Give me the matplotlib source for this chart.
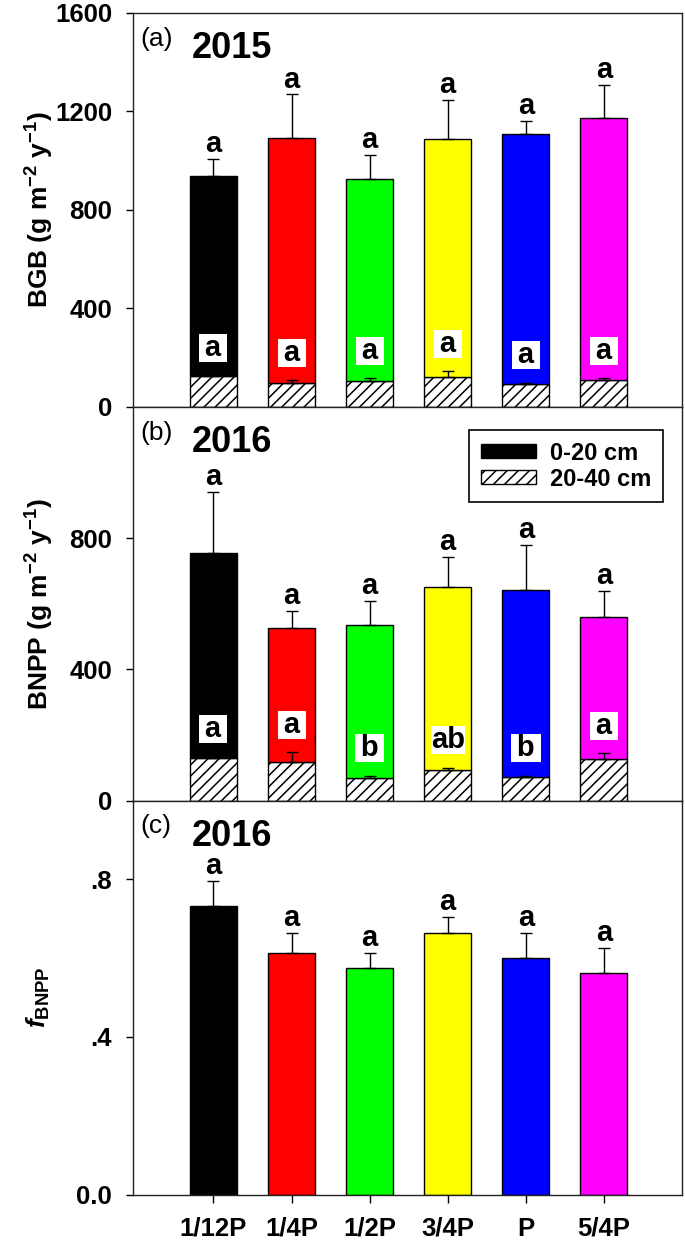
import matplotlib
matplotlib.use('Agg')
import matplotlib.pyplot as plt
import numpy as np
from matplotlib.patches import Patch

plt.rcParams['font.family'] = ['Liberation Sans', 'DejaVu Sans']
plt.rcParams['mathtext.fontset'] = 'custom'
plt.rcParams['mathtext.rm'] = 'Liberation Sans'
plt.rcParams['mathtext.bf'] = 'Liberation Sans:bold'
plt.rcParams['mathtext.it'] = 'Liberation Sans:italic:bold'
plt.rcParams['hatch.linewidth'] = 1.1

# ---------------- data ----------------
treatments = ['1/12P', '1/4P', '1/2P', '3/4P', 'P', '5/4P']
colors = ['#000000', '#FF0000', '#00FF00', '#FFFF00', '#0000FF', '#FF00FF']

# (a) 2015 BGB
bgb_deep = [124, 95, 104, 119, 91, 107]            # 20-40 cm
bgb_deep_se = [3, 13, 12, 26, 6, 8]
bgb_total = [937, 1091, 924, 1086, 1107, 1172]     # 0-40 cm
bgb_total_se = [70, 177, 99, 161, 54, 133]
bgb_top_letters = ['a', 'a', 'a', 'a', 'a', 'a']
bgb_deep_letters = ['a', 'a', 'a', 'a', 'a', 'a']

# (b) 2016 BNPP
bnpp_deep = [131, 118, 68, 92, 73, 128]
bnpp_deep_se = [3, 29, 8, 8, 3, 17]
bnpp_total = [755, 525, 534, 650, 643, 559]
bnpp_total_se = [184, 52, 73, 92, 136, 80]
bnpp_top_letters = ['a', 'a', 'a', 'a', 'a', 'a']
bnpp_deep_letters = ['a', 'a', 'b', 'ab', 'b', 'a']

# (c) 2016 fBNPP
fbnpp = [0.732, 0.614, 0.575, 0.663, 0.599, 0.562]
fbnpp_se = [0.064, 0.049, 0.039, 0.042, 0.064, 0.064]
fbnpp_letters = ['a', 'a', 'a', 'a', 'a', 'a']

# ---------------- figure ----------------
W, H = 685, 1242
fig = plt.figure(figsize=(W / 100, H / 100), dpi=100)
left = 133 / W
width = 549 / W
ph = 394 / H
tops = [12.7, 406.7, 800.5]
axes = [fig.add_axes([left, 1 - (t + 394) / H, width, ph]) for t in tops]

x = np.arange(1, 7)
BW = 0.6
TICKFS = 18.5
LETFS = 21
HATCH = '///'


def style(ax):
    for s in ax.spines.values():
        s.set_linewidth(1.0)
        s.set_color('#222222')
    ax.set_xlim(-0.03, 7.0)
    ax.tick_params(axis='y', direction='out', length=5, width=1.0, pad=10,
                   labelsize=TICKFS)
    for lab in ax.get_yticklabels():
        lab.set_fontweight('bold')


def top_letters(ax, tops_, letters):
    for xi, t, lab in zip(x, tops_, letters):
        ax.annotate(lab, (xi, t), xytext=(0, 5), textcoords='offset points',
                    ha='center', va='baseline', fontsize=LETFS,
                    fontweight='bold', zorder=6)


def stacked(ax, deep, deep_se, total, total_se, tl, dl):
    deep = np.array(deep, float)
    total = np.array(total, float)
    shallow = total - deep
    ax.bar(x, deep, width=BW, color='white', edgecolor='black', hatch=HATCH,
           linewidth=1.0, zorder=2)
    ax.bar(x, shallow, bottom=deep, width=BW, color=colors,
           edgecolor='black', linewidth=1.0, zorder=2)
    z = np.zeros(6)
    ax.errorbar(x, deep, yerr=[z, deep_se], fmt='none', ecolor='black',
                elinewidth=1.0, capsize=4.5, capthick=1.0, zorder=3)
    ax.errorbar(x, total, yerr=[z, total_se], fmt='none', ecolor='black',
                elinewidth=1.0, capsize=4.5, capthick=1.0, zorder=3)
    top_letters(ax, total + np.array(total_se), tl)
    for xi, t, lab in zip(x, deep + np.array(deep_se), dl):
        txt = '\u2009' + lab + '\u2009' if len(lab) == 1 else lab
        ax.annotate(txt, (xi, t), xytext=(0, 14),
                    textcoords='offset points', ha='center', va='baseline',
                    fontsize=LETFS, fontweight='bold', zorder=6,
                    bbox=dict(boxstyle='square,pad=0', fc='white', ec='none'))


def panel_title(ax, tag, year):
    ax.text(7 / 549, 1 - 33 / 394, tag, transform=ax.transAxes, fontsize=19,
            va='baseline', ha='left')
    ax.text(59 / 549, 1 - 45 / 394, year, transform=ax.transAxes, fontsize=26,
            fontweight='bold', va='baseline', ha='left')


# (a)
ax = axes[0]
stacked(ax, bgb_deep, bgb_deep_se, bgb_total, bgb_total_se,
        bgb_top_letters, bgb_deep_letters)
ax.set_ylim(0, 1600)
ax.set_yticks([0, 400, 800, 1200, 1600])
ax.set_xticks([])
style(ax)
panel_title(ax, '(a)', '2015')

# (b)
ax = axes[1]
stacked(ax, bnpp_deep, bnpp_deep_se, bnpp_total, bnpp_total_se,
        bnpp_top_letters, bnpp_deep_letters)
ax.set_ylim(0, 1200)
ax.set_yticks([0, 400, 800])
ax.set_xticks([])
style(ax)
panel_title(ax, '(b)', '2016')
handles = [Patch(facecolor='black', edgecolor='black', label='0-20 cm'),
           Patch(facecolor='white', edgecolor='black', hatch=HATCH,
                 label='20-40 cm')]
leg = ax.legend(handles=handles, loc='upper right',
                bbox_to_anchor=(1 - 19 / 549, 1 - 23 / 394),
                borderaxespad=0, fancybox=False, edgecolor='black',
                framealpha=1, handlelength=2.33, handleheight=0.5,
                handletextpad=0.6, labelspacing=0.13, borderpad=0.5,
                prop={'size': 17, 'weight': 'bold'})
leg.get_frame().set_linewidth(1.2)

# (c)
ax = axes[2]
ax.bar(x, fbnpp, width=BW, color=colors, edgecolor='black', linewidth=1.0,
       zorder=2)
ax.errorbar(x, fbnpp, yerr=[np.zeros(6), fbnpp_se], fmt='none',
            ecolor='black', elinewidth=1.0, capsize=4.5, capthick=1.0,
            zorder=3)
top_letters(ax, np.array(fbnpp) + np.array(fbnpp_se), fbnpp_letters)
ax.set_ylim(0, 1.0)
ax.set_yticks([0.0, 0.4, 0.8])
ax.set_yticklabels(['0.0', '.4', '.8'])
ax.set_xticks(x)
ax.set_xticklabels(treatments)
style(ax)
ax.tick_params(axis='x', direction='out', length=6, width=1.0, pad=10,
               labelsize=TICKFS)
for lab in ax.get_xticklabels():
    lab.set_fontweight('bold')
panel_title(ax, '(c)', '2016')

# y labels
fig.text(40 / W, 1 - (12.7 + 197) / H,
         r'BGB (g m$^{\mathbf{-2}}$ y$^{\mathbf{-1}}$)', rotation=90,
         ha='center', va='center', fontsize=19, fontweight='bold')
fig.text(40 / W, 1 - (406.7 + 197) / H,
         r'BNPP (g m$^{\mathbf{-2}}$ y$^{\mathbf{-1}}$)', rotation=90,
         ha='center', va='center', fontsize=19, fontweight='bold')
fig.text(38 / W, 1 - (800.5 + 197) / H,
         r'$\mathit{f}_{\mathbf{BNPP}}$', rotation=90,
         ha='center', va='center', fontsize=19)

fig.savefig('out.png', dpi=100)
